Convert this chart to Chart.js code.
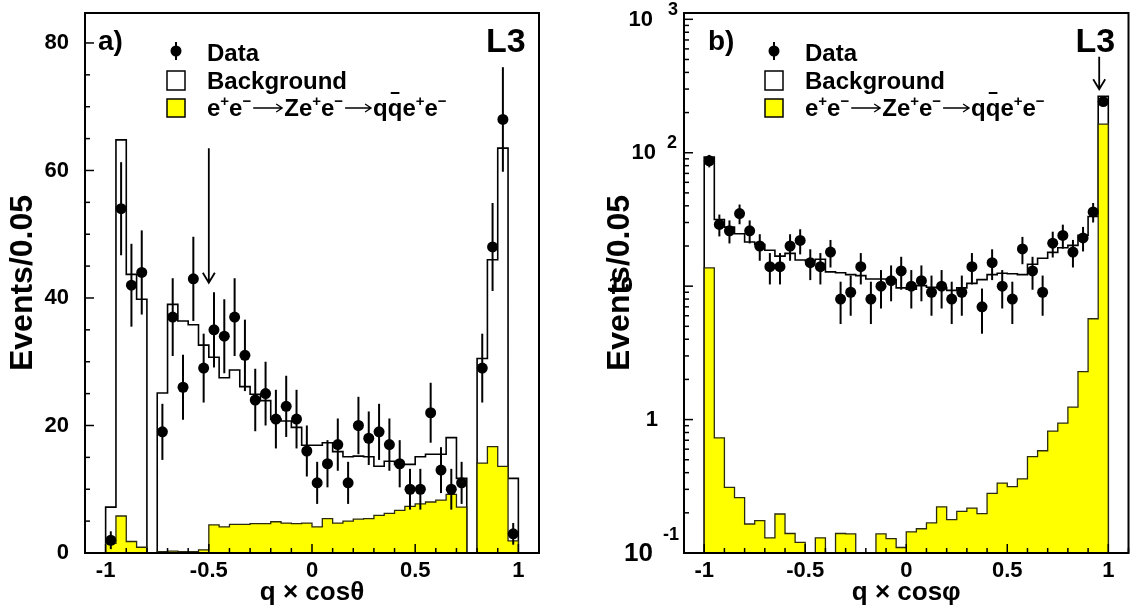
<!DOCTYPE html>
<html>
<head>
<meta charset="utf-8">
<title>L3 q x cos theta</title>
<script src="https://cdn.jsdelivr.net/npm/chart.js@4.4.1/dist/chart.umd.min.js"></script>
<style>
    html, body { margin: 0; padding: 0; background: #fff; }
    #wrap { position: relative; width: 1134px; height: 609px; }
    canvas { position: absolute; top: 0; }
    #chartA { left: 0; }
    #chartB { left: 567px; }
</style>
</head>
<body>
<div id="wrap">
    <canvas id="chartA" width="567" height="609"></canvas>
    <canvas id="chartB" width="567" height="609"></canvas>
</div>
<script>
// ========================================
// DATA (bins of 0.05 in q x cos)
// ========================================
const binEdges = [-1, -0.95, -0.9, -0.85, -0.8, -0.75, -0.7, -0.65, -0.6, -0.55,
    -0.5, -0.45, -0.4, -0.35, -0.3, -0.25, -0.2, -0.15, -0.1, -0.05,
    0, 0.05, 0.1, 0.15, 0.2, 0.25, 0.3, 0.35, 0.4, 0.45,
    0.5, 0.55, 0.6, 0.65, 0.7, 0.75, 0.8, 0.85, 0.9, 0.95, 1];

const xTickValues = [-1, -0.5, 0, 0.5, 1];
const aYTicks = [0, 20, 40, 60, 80];
const bYTicks = [0.1, 1, 10, 100, 1000];
const legendLabels = ['Data', 'Background'];

// panel a) linear
const aData = [2, 54, 42, 44, null, 19, 37, 26, 43, 29, 35, 34, 37, 31, 24, 25, 21, 23, 21, 16,
    11, 14, 17, 11, 20, 18, 19, 17, 14, 10, 10, 22, 13, 10, 11, null, 29, 48, 68, 3];
const aErr = [1.4, 7.3, 6.5, 6.6, null, 4.4, 6.1, 5.1, 6.6, 5.4, 5.9, 5.8, 6.1, 5.6, 4.9, 5.0, 4.6, 4.8, 4.6, 4.0,
    3.3, 3.7, 4.1, 3.3, 4.5, 4.2, 4.4, 4.1, 3.7, 3.2, 3.2, 4.7, 3.6, 3.2, 3.3, null, 5.4, 6.9, 8.2, 1.7];
const aTotal = [7.2, 64.8, 43.7, 39.8, 0, 25.1, 39.0, 36.4, 35.8, 32.6, 30.7, 27.5, 28.7, 26.1, 24.9, 23.9, 21.0, 20.7, 19.7, 16.9,
    16.9, 17.3, 15.9, 15.1, 15.2, 15.1, 13.6, 14.4, 13.9, 13.9, 15.1, 15.5, 15.5, 18.1, 11.7, 0, 30.5, 46.0, 63.5, 11.7];
const aSignal = [1.5, 5.8, 1.8, 0.9, 0, 0.2, 0.3, 0.2, 0.2, 0.5, 4.4, 4.1, 4.5, 4.5, 4.6, 4.6, 4.9, 4.7, 4.6, 4.7,
    4.1, 5.4, 4.7, 5.0, 5.3, 5.4, 5.9, 6.2, 6.7, 7.3, 7.7, 8.0, 8.3, 9.2, 7.2, 0, 14.1, 16.7, 13.6, 1.9];

// panel b) log
const bData = [87, 29, 26, 35, 26, 20, 14, 14, 20, 22, 15, 14, 18, 8, 9, 14, 8, 10, 11, 13,
    10, 11, 9, 10, 8, 9, 14, 7, 15, 10, 8, 19, 13, 9, 21, 24, 18, 23, 36, 242];
const bErr = [9.3, 5.4, 5.1, 5.9, 5.1, 4.5, 3.7, 3.7, 4.5, 4.7, 3.9, 3.7, 4.2, 2.8, 3.0, 3.7, 2.8, 3.2, 3.3, 3.6,
    3.2, 3.3, 3.0, 3.2, 2.8, 3.0, 3.7, 2.6, 3.9, 3.2, 2.8, 4.4, 3.6, 3.0, 4.6, 4.9, 4.2, 4.8, 6.0, 15.6];
const bTotal = [93, 31.6, 27.7, 24.7, 21.4, 20.5, 18.6, 16.8, 17.6, 15.7, 15.5, 15.9, 12.8, 12.6, 12.2, 12.0, 11.3, 11.3, 11.2, 9.7,
    9.5, 10.1, 9.8, 9.7, 9.3, 9.7, 10.5, 11.2, 12.2, 12.5, 12.4, 12.2, 14.6, 16.2, 17.9, 19.4, 20.2, 24.1, 33.3, 265];
const bSignal = [13.7, 0.73, 0.31, 0.26, 0.165, 0.175, 0.13, 0.196, 0.14, 0.12, 0, 0.13, 0, 0.14, 0.139, 0, 0, 0.139, 0.128, 0.11,
    0.144, 0.152, 0.168, 0.222, 0.178, 0.205, 0.217, 0.197, 0.28, 0.334, 0.314, 0.36, 0.527, 0.584, 0.82, 0.94, 1.24, 2.29, 5.7, 164];

const FONT = "'Liberation Sans', Arial, Helvetica, sans-serif";

// ========================================
// HELPERS
// ========================================
function histPoints(vals, floor) {
    // outline of a histogram, drawn with stepped:'before'
    const pts = [{ x: binEdges[0], y: floor }];
    vals.forEach((v, i) => pts.push({ x: binEdges[i], y: v > 0 ? v : floor }));
    pts.push({ x: binEdges[binEdges.length - 1], y: vals[vals.length - 1] > 0 ? vals[vals.length - 1] : floor });
    pts.push({ x: binEdges[binEdges.length - 1], y: floor });
    return pts;
}

function dataPoints(vals) {
    const pts = [];
    vals.forEach((v, i) => {
        if (v !== null) pts.push({ x: (binEdges[i] + binEdges[i + 1]) / 2, y: v });
    });
    return pts;
}

function drawArrowGlyph(ctx, x, y, len) {
    ctx.save();
    ctx.lineWidth = 1.3;
    ctx.beginPath();
    ctx.moveTo(x + 2, y - 8);
    ctx.lineTo(x + len - 2, y - 8);
    ctx.moveTo(x + len - 8, y - 12);
    ctx.lineTo(x + len - 2, y - 8);
    ctx.lineTo(x + len - 8, y - 4);
    ctx.stroke();
    ctx.restore();
}

function drawRich(ctx, parts, x, y) {
    let cx = x;
    parts.forEach(p => {
        const kind = p[1] || '';
        if (kind === 'arrow') {
            drawArrowGlyph(ctx, cx, y, p[2]);
            cx += p[2];
            return;
        }
        ctx.font = kind === 'sup' ? 'bold 15px ' + FONT : 'bold 24px ' + FONT;
        const dy = kind === 'sup' ? -10 : 0;
        ctx.fillText(p[0], cx, y + dy);
        const w = ctx.measureText(p[0]).width;
        if (kind === 'bar') {
            ctx.fillRect(cx + 3, y - 24, w - 6, 2);
        }
        cx += w;
    });
}

const reactionParts = [['e'], ['+', 'sup'], ['e'], ['\u2212', 'sup'], ['', 'arrow', 33], ['Ze'], ['+', 'sup'], ['e'], ['\u2212', 'sup'],
    ['', 'arrow', 30], ['q'], ['q', 'bar'], ['e'], ['+', 'sup'], ['e'], ['\u2212', 'sup']];

// ========================================
// DECORATION PLUGIN (frame, inner ticks, error bars, legend, labels)
// ========================================
function decoPlugin(p) {
    return {
        id: 'deco',
        afterDatasetsDraw(chart) {
            const ctx = chart.ctx;
            const xs = chart.scales.x, ys = chart.scales.y;
            ctx.save();
            ctx.strokeStyle = '#000';
            ctx.lineWidth = 2;
            p.data.forEach((v, i) => {
                if (v === null || p.err[i] === null) return;
                const px = xs.getPixelForValue((binEdges[i] + binEdges[i + 1]) / 2);
                ctx.beginPath();
                ctx.moveTo(px, ys.getPixelForValue(v + p.err[i]));
                ctx.lineTo(px, ys.getPixelForValue(v - p.err[i]));
                ctx.stroke();
            });
            ctx.restore();
        },
        afterDraw(chart) {
            const ctx = chart.ctx;
            const a = chart.chartArea;
            const xs = chart.scales.x, ys = chart.scales.y;
            ctx.save();
            ctx.strokeStyle = '#000';
            ctx.fillStyle = '#000';

            // inner ticks x
            ctx.lineWidth = 1.5;
            for (let k = -11; k <= 11; k++) {
                const v = k / 10;
                const major = k % 5 === 0;
                const px = xs.getPixelForValue(v);
                ctx.beginPath();
                ctx.moveTo(px, a.bottom);
                ctx.lineTo(px, a.bottom - (major ? 9 : 5));
                ctx.stroke();
            }
            // inner ticks y
            if (p.log) {
                for (let e = -1; e <= 3; e++) {
                    for (let m = 1; m <= 9; m++) {
                        const v = m * Math.pow(10, e);
                        if (v > ys.max) continue;
                        const py = ys.getPixelForValue(v);
                        ctx.beginPath();
                        ctx.moveTo(a.left, py);
                        ctx.lineTo(a.left + (m === 1 ? 9 : 5), py);
                        ctx.stroke();
                    }
                }
            } else {
                for (let v = 0; v <= ys.max; v += 5) {
                    const py = ys.getPixelForValue(v);
                    ctx.beginPath();
                    ctx.moveTo(a.left, py);
                    ctx.lineTo(a.left + (v % 20 === 0 ? 9 : 5), py);
                    ctx.stroke();
                }
            }

            // frame
            ctx.lineWidth = 2;
            ctx.strokeRect(a.left, a.top, a.right - a.left, a.bottom - a.top);

            // log axis labels with exponents
            if (p.log) {
                ctx.textBaseline = 'middle';
                bYTicks.forEach(v => {
                    const e = Math.round(Math.log10(v));
                    const lp = p.logLabels[e];
                    const py = ys.getPixelForValue(v) + lp.dy;
                    ctx.font = 'bold ' + lp.size + 'px ' + FONT;
                    ctx.textAlign = 'right';
                    ctx.fillText(lp.base, a.left - lp.right, py);
                    if (lp.sup) {
                        ctx.font = 'bold 18px ' + FONT;
                        ctx.textAlign = 'left';
                        ctx.fillText(lp.sup, a.left - lp.supLeft, py - lp.raise);
                    }
                });
            }

            ctx.textAlign = 'left';
            ctx.textBaseline = 'alphabetic';

            // panel label and L3
            ctx.font = 'bold 28px ' + FONT;
            ctx.fillText(p.panel, a.left + p.panelDx, a.top + 37);
            ctx.font = 'bold 34px ' + FONT;
            ctx.fillText('L3', a.right - 53, a.top + 39);

            // arrow
            const ax = xs.getPixelForValue(p.arrow.x);
            const ay1 = ys.getPixelForValue(p.arrow.top);
            const ay2 = ys.getPixelForValue(p.arrow.tip);
            ctx.lineWidth = 1.8;
            ctx.beginPath();
            ctx.moveTo(ax, ay1);
            ctx.lineTo(ax, ay2);
            ctx.moveTo(ax - 6, ay2 - 10);
            ctx.lineTo(ax, ay2);
            ctx.lineTo(ax + 6, ay2 - 10);
            ctx.stroke();

            // legend
            const lx = a.left + p.legendDx;
            ctx.lineWidth = 2;
            ctx.beginPath();
            ctx.moveTo(lx + 9, a.top + 29);
            ctx.lineTo(lx + 9, a.top + 47);
            ctx.stroke();
            ctx.beginPath();
            ctx.arc(lx + 9, a.top + 38, 5.5, 0, Math.PI * 2);
            ctx.fill();

            ctx.lineWidth = 1.5;
            ctx.fillStyle = '#fff';
            ctx.fillRect(lx, a.top + 58, 18, 19);
            ctx.strokeRect(lx, a.top + 58, 18, 19);
            ctx.fillStyle = '#ffff00';
            ctx.fillRect(lx, a.top + 86, 18, 18);
            ctx.strokeRect(lx, a.top + 86, 18, 18);

            ctx.fillStyle = '#000';
            ctx.font = 'bold 24px ' + FONT;
            ctx.fillText(legendLabels[0], lx + 40, a.top + 48);
            ctx.fillText(legendLabels[1], lx + 40, a.top + 75.5);
            drawRich(ctx, reactionParts, lx + 40, a.top + 103);

            ctx.restore();
        }
    };
}

// ========================================
// BUILD ONE PANEL
// ========================================
function buildPanel(canvasId, p) {
    const floor = p.log ? 0.01 : 0;
    return new Chart(document.getElementById(canvasId).getContext('2d'), {
        type: 'line',
        data: {
            datasets: [{
                label: 'Data',
                data: dataPoints(p.data),
                showLine: false,
                pointRadius: 5.5,
                pointHoverRadius: 5.5,
                pointBackgroundColor: '#000',
                pointBorderColor: '#000',
                pointBorderWidth: 0,
                order: 0
            }, {
                label: 'Signal',
                data: histPoints(p.signal, floor),
                stepped: 'before',
                borderColor: '#2a2a10',
                borderWidth: 1.3,
                backgroundColor: '#ffff00',
                fill: p.log ? 'start' : 'origin',
                pointRadius: 0,
                order: 1
            }, {
                label: 'Background',
                data: histPoints(p.total, floor),
                stepped: 'before',
                borderColor: '#000',
                borderWidth: 1.6,
                backgroundColor: '#fff',
                fill: p.log ? 'start' : 'origin',
                pointRadius: 0,
                order: 2
            }]
        },
        options: {
            responsive: false,
            animation: false,
            events: [],
            layout: { padding: { top: 13, right: p.padRight, left: 0, bottom: 0 } },
            plugins: {
                legend: { display: false },
                tooltip: { enabled: false }
            },
            scales: {
                x: {
                    type: 'linear',
                    min: -1.1,
                    max: 1.1,
                    afterBuildTicks: s => { s.ticks = xTickValues.map(v => ({ value: v })); },
                    afterFit: s => { s.height = 56; s.paddingLeft = 0; s.paddingRight = 0; },
                    grid: { display: false, drawTicks: false },
                    border: { display: false },
                    ticks: {
                        autoSkip: false,
                        maxRotation: 0,
                        padding: 5,
                        color: '#000',
                        font: { family: FONT, size: 22, weight: 'bold' },
                        callback: v => String(v)
                    },
                    title: {
                        display: true,
                        text: p.xTitle,
                        color: '#000',
                        font: { family: FONT, size: 26, weight: 'bold' },
                        padding: { top: 0, bottom: 1 }
                    }
                },
                y: {
                    type: p.log ? 'logarithmic' : 'linear',
                    min: p.yMin,
                    max: p.yMax,
                    afterBuildTicks: s => { s.ticks = p.yTicks.map(v => ({ value: v })); },
                    afterFit: s => { s.width = p.axisWidth; s.paddingTop = 0; s.paddingBottom = 0; },
                    grid: { display: false, drawTicks: false },
                    border: { display: false },
                    ticks: {
                        display: !p.log,
                        padding: 16,
                        color: '#000',
                        font: { family: FONT, size: 22, weight: 'bold' }
                    },
                    title: {
                        display: true,
                        text: 'Events/0.05',
                        color: '#000',
                        font: { family: FONT, size: 32, weight: 'bold' },
                        padding: { top: p.yTitlePad, bottom: 0 }
                    }
                }
            }
        },
        plugins: [decoPlugin(p)]
    });
}

buildPanel('chartA', {
    log: false,
    data: aData, err: aErr, total: aTotal, signal: aSignal,
    yMin: 0, yMax: 84.7, yTicks: aYTicks,
    axisWidth: 85, padRight: 28, yTitlePad: 4,
    xTitle: 'q \u00d7 cos\u03b8',
    panel: 'a)', panelDx: 13, legendDx: 82,
    arrow: { x: -0.5, top: 63.5, tip: 42.4 }
});

buildPanel('chartB', {
    log: true,
    data: bData, err: bErr, total: bTotal, signal: bSignal,
    yMin: 0.1, yMax: 1115, yTicks: bYTicks,
    axisWidth: 117, padRight: 1, yTitlePad: 34,
    xTitle: 'q \u00d7 cos\u03c6',
    panel: 'b)', panelDx: 24, legendDx: 81,
    arrow: { x: 0.955, top: 525, tip: 299 },
    logLabels: {
        '3': { base: '10', sup: '3', size: 22, right: 31, supLeft: 16, raise: 10, dy: 1 },
        '2': { base: '10', sup: '2', size: 22, right: 28, supLeft: 17, raise: 10, dy: 0 },
        '1': { base: '10', sup: '', size: 22, right: 51, dy: 0 },
        '0': { base: '1', sup: '', size: 22, right: 26, dy: 0 },
        '-1': { base: '10', sup: '-1', size: 26, right: 31, supLeft: 21, raise: 19, dy: 1 }
    }
});
</script>
</body>
</html>
